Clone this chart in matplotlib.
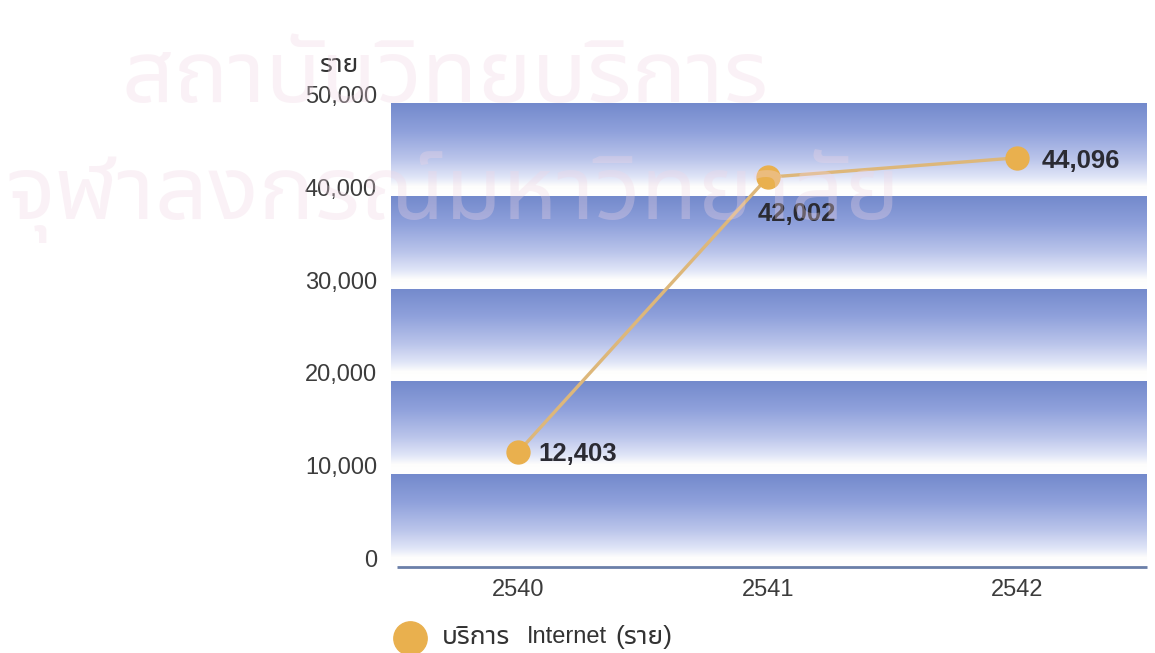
import numpy as np
import matplotlib
matplotlib.use("Agg")
import matplotlib.pyplot as plt
from matplotlib import font_manager as fm
from matplotlib.ft2font import FT2Font
from matplotlib.colors import LinearSegmentedColormap
from matplotlib import transforms

# ---------------- data ----------------
years = ["2540", "2541", "2542"]
internet_users = [12403, 42002, 44096]
value_labels = ["12,403", "42,002", "44,096"]
y_ticks = [0, 10000, 20000, 30000, 40000, 50000]
y_tick_labels = ["0", "10,000", "20,000", "30,000", "40,000", "50,000"]
y_unit = "ราย"
legend_parts = ["บริการ", "Internet", "(ราย)"]
watermark_lines = ["สถาบันวิทยบริการ", "จุฬาลงกรณ์มหาวิทยาลัย"]


def find_thai_family():
    found = []
    for f in fm.fontManager.ttflist:
        try:
            cm = FT2Font(f.fname).get_charmap()
        except Exception:
            continue
        if 0x0E01 in cm and 0x0E32 in cm and 0x0E34 in cm:
            found.append(f.name)
    if not found:
        return None
    def score(n):
        s = 0
        if "Thai" in n: s -= 10
        if "Looped" in n: s += 5
        if "Sans" in n: s -= 2
        return s
    found = sorted(set(found), key=score)
    return found[0]


thai = find_thai_family()
LATIN = "Liberation Sans"
fam_thai = [thai, LATIN, "DejaVu Sans"] if thai else [LATIN, "DejaVu Sans"]

W, H, DPI = 1155, 653, 100
fig = plt.figure(figsize=(W / DPI, H / DPI), dpi=DPI)
fig.patch.set_facecolor("white")

ax_l, ax_r = 391 / W, 1147 / W
ax_b, ax_t = 1 - 567 / H, 1 - 103 / H
ax = fig.add_axes([ax_l, ax_b, ax_r - ax_l, ax_t - ax_b])
x = np.arange(len(years))
XLIM = (-0.51, 2.52)
for s in ax.spines.values():
    s.set_visible(False)
ax.set_facecolor("white")

# gradient bands (dark at each gridline, fading to white just above the next one)
band_cmap = LinearSegmentedColormap.from_list(
    "band",
    [(0.0, (1.0, 1.0, 1.0)),
     (0.10, (0.995, 0.995, 0.99)),
     (0.20, (0.88, 0.90, 0.97)),
     (0.40, (0.73, 0.77, 0.92)),
     (0.70, (0.56, 0.63, 0.86)),
     (1.0, (0.45, 0.54, 0.80))])
grad = np.linspace(0, 1, 256).reshape(-1, 1)
for k in range(len(y_ticks) - 1):
    lo, hi = y_ticks[k], y_ticks[k + 1]
    ax.imshow(grad, cmap=band_cmap, origin="lower", aspect="auto",
              extent=[XLIM[0], XLIM[1], lo, hi], zorder=0, interpolation="bilinear")
ax.set_xlim(*XLIM)
ax.set_ylim(0, 50000)

# baseline axis line
ax.plot([-0.485, XLIM[1]], [0, 0], color="#6a7fa8", lw=2.0, zorder=2,
        solid_capstyle="butt", clip_on=False)

# line + markers
ax.plot(x, internet_users, color="#ddb77a", lw=2.4, zorder=3)
ax.plot(x, internet_users, "o", color="#e9b04e", ms=16.5, mec="#e9b04e", zorder=4)

# value labels (offsets in pixels)
offsets = [(20, -2), (-10, -37), (24, -3)]
for xi, v, lab, (dx, dy) in zip(x, internet_users, value_labels, offsets):
    ax.annotate(lab, (xi, v), xytext=(dx, dy), textcoords="offset pixels",
                ha="left", va="center", fontsize=18.5, fontweight="bold",
                color="#2b2b33", family=LATIN, zorder=5)

# x ticks
ax.set_xticks(x)
ax.set_xticklabels(years, fontsize=17, color="#3c3c3c", family=LATIN)
ax.tick_params(axis="x", length=0, pad=9)

# y ticks (labels sit slightly above each gridline, as in the original)
ax.set_yticks(y_ticks)
ax.set_yticklabels([])
ax.tick_params(axis="y", length=0)
ytrans = transforms.offset_copy(ax.get_yaxis_transform(), fig=fig, x=-14, y=6, units="dots")
for v, lab in zip(y_ticks, y_tick_labels):
    ax.text(0, v, lab, transform=ytrans, ha="right", va="center",
            fontsize=17, color="#3c3c3c", family=LATIN)

# unit label
fig.text(340 / W, 1 - 65 / H, y_unit, ha="center", va="center", fontsize=19,
         color="#333333", family=fam_thai)

# legend
fig.add_artist(plt.Line2D([410 / W], [1 - 638 / H], marker="o", ms=24,
                          color="#e9b04e", mec="#e9b04e", transform=fig.transFigure))
legend_x = [442, 527, 615]
legend_sizes = [19, 17, 19]
for part, px, fs in zip(legend_parts, legend_x, legend_sizes):
    fig.text(px / W, 1 - 637 / H, part, ha="left", va="center", fontsize=fs,
             color="#333333", family=fam_thai)

# faint watermark (scan overlay)
wm_specs = [(122, 770, 78), (5, 900, 196)]
renderer = fig.canvas.get_renderer()
for line, (x0, x1, yc) in zip(watermark_lines, wm_specs):
    t = fig.text(x0 / W, 1 - yc / H, line, ha="left", va="center", fontsize=80,
                 color="#f0d6e4", alpha=0.32, family=fam_thai, zorder=10)
    bb = t.get_window_extent(renderer)
    if bb.width > 0:
        t.set_fontsize(80 * (x1 - x0) / bb.width)

fig.savefig("out.png", dpi=DPI, facecolor="white")
